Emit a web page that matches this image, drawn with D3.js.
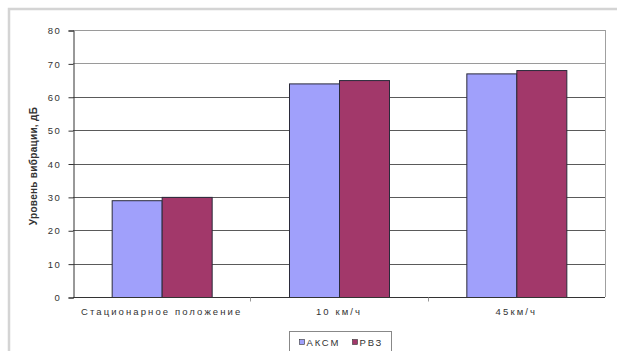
<!DOCTYPE html>
<html>
<head>
<meta charset="utf-8">
<script src="https://cdn.jsdelivr.net/npm/d3@7"></script>
<style>
  html, body { margin: 0; padding: 0; background: #fff; }
  svg { display: block; font-family: "Liberation Sans", Arial, sans-serif; }
</style>
</head>
<body>
<svg id="chart" width="617" height="351"></svg>
<script>
// Vibration level by operating mode
const categories = ["Стационарное положение", "10 км/ч", "45км/ч"];
const seriesNames = ["АКСМ", "РВЗ"];
const valuesAKSM = [29, 64, 67];
const valuesRVZ = [30, 65, 68];
const yTicks = [0, 10, 20, 30, 40, 50, 60, 70, 80];
const yTitle = "Уровень вибрации, дБ";
const colors = ["#a0a0fb", "#a2386a"];

const svg = d3.select("#chart");
const plot = { left: 73, right: 605, top: 30, bottom: 297 };

// outer chart frame
svg.append("rect")
  .attr("x", 9).attr("y", 9).attr("width", 640).attr("height", 400)
  .attr("fill", "none").attr("stroke", "#d4d4d4").attr("stroke-width", 2.5);

const x0 = d3.scaleBand().domain(categories).range([plot.left, plot.right]).paddingInner(0).paddingOuter(0);
const x1 = d3.scaleBand().domain(seriesNames).range([0, 100]);
const y = d3.scaleLinear().domain([0, 80]).range([plot.bottom, plot.top]);

// gridlines
svg.append("g").selectAll("line").data(yTicks.filter(t => t > 0)).join("line")
  .attr("x1", plot.left).attr("x2", plot.right)
  .attr("y1", d => Math.round(y(d)) + 0.5).attr("y2", d => Math.round(y(d)) + 0.5)
  .attr("stroke", d => d >= 70 ? "#9a9a9a" : "#5a5a5a").attr("stroke-width", 1);

// plot area border (right side)
svg.append("line")
  .attr("x1", plot.right + 0.5).attr("x2", plot.right + 0.5)
  .attr("y1", plot.top).attr("y2", plot.bottom)
  .attr("stroke", "#a0a0a0");

// bars
const data = categories.map((c, i) => ({ cat: c, vals: [valuesAKSM[i], valuesRVZ[i]] }));
const groups = svg.append("g").selectAll("g").data(data).join("g")
  .attr("transform", d => `translate(${x0(d.cat) + (x0.bandwidth() - 100) / 2},0)`);
groups.selectAll("rect").data(d => d.vals.map((v, j) => ({ name: seriesNames[j], v, j }))).join("rect")
  .attr("x", d => x1(d.name) + 0.5)
  .attr("width", x1.bandwidth())
  .attr("y", d => y(d.v) + 0.5)
  .attr("height", d => y(0) - y(d.v))
  .attr("fill", d => colors[d.j])
  .attr("stroke", "#2a2a3a").attr("stroke-width", 1);

// y axis
const yAxis = d3.axisLeft(y).tickValues(yTicks).tickSize(5).tickPadding(7).tickFormat(d3.format("d"));
const gy = svg.append("g").attr("transform", `translate(${plot.left + 0.5},0.5)`).call(yAxis);
gy.select(".domain").attr("stroke", "#333");
gy.selectAll(".tick line").attr("stroke", "#333");
gy.selectAll(".tick text").attr("font-size", 9.5).attr("fill", "#333").attr("dy", "0.34em")
  .attr("letter-spacing", 1.6);

// x axis
const xAxis = d3.axisBottom(x0).tickSize(0).tickPadding(11);
const gx = svg.append("g").attr("transform", `translate(0,${plot.bottom + 0.5})`).call(xAxis);
gx.select(".domain").attr("stroke", "#333").attr("d", `M${plot.left},0H${plot.right}`);
gx.selectAll(".tick text").attr("font-size", 9.5).attr("fill", "#333").attr("letter-spacing", 2.1);
// category boundary ticks
gx.append("g").selectAll("line").data(categories.slice(1)).join("line")
  .attr("x1", d => Math.round(x0(d)) + 0.5).attr("x2", d => Math.round(x0(d)) + 0.5)
  .attr("y1", 0).attr("y2", 4).attr("stroke", "#999");

// y title
svg.append("text")
  .attr("transform", `translate(37,166) rotate(-90)`)
  .attr("text-anchor", "middle")
  .attr("font-size", 10).attr("font-weight", "bold").attr("fill", "#333")
  .attr("letter-spacing", 0.3)
  .text(yTitle);

// legend
const lg = svg.append("g").attr("transform", "translate(289.5,331.5)");
lg.append("rect").attr("width", 102).attr("height", 30)
  .attr("fill", "#fff").attr("stroke", "#888");
seriesNames.forEach((n, i) => {
  const ox = 10 + i * 53;
  lg.append("rect").attr("x", ox).attr("y", 8).attr("width", 5).attr("height", 5)
    .attr("fill", colors[i]).attr("stroke", "#333").attr("stroke-width", 0.6);
  lg.append("text").attr("x", ox + 7).attr("y", 14.5)
    .attr("font-size", 9.5).attr("fill", "#333").attr("letter-spacing", 1.8).text(n);
});
</script>
</body>
</html>
